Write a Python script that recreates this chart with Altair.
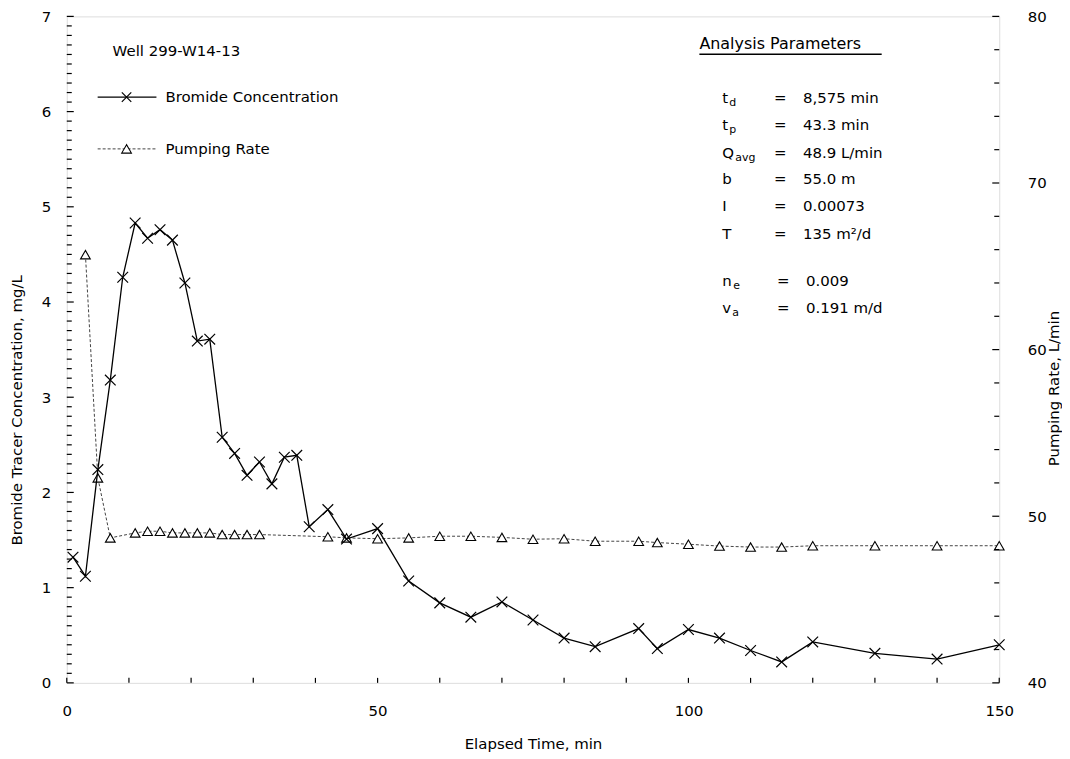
import altair as alt
import pandas as pd

# ---------------- data ----------------
t_br = [1, 3, 5, 7, 9, 11, 13, 15, 17, 19, 21, 23, 25, 27, 29, 31, 33, 35, 37, 39,
        42, 45, 50, 55, 60, 65, 70, 75, 80, 85, 92, 95, 100, 105, 110, 115, 120, 130, 140, 150]
conc = [1.32, 1.12, 2.24, 3.18, 4.26, 4.83, 4.67, 4.76, 4.65, 4.20, 3.59, 3.61, 2.58, 2.41, 2.18,
        2.32, 2.09, 2.37, 2.39, 1.64, 1.82, 1.51, 1.62, 1.07, 0.84, 0.69, 0.85, 0.66, 0.47, 0.38,
        0.57, 0.36, 0.56, 0.47, 0.34, 0.22, 0.43, 0.31, 0.25, 0.40]
t_pr = [3, 5, 7, 11, 13, 15, 17, 19, 21, 23, 25, 27, 29, 31, 42, 45, 50, 55, 60, 65, 70, 75,
        80, 85, 92, 95, 100, 105, 110, 115, 120, 130, 140, 150]
rate = [65.7, 52.3, 48.7, 49.0, 49.1, 49.1, 49.0, 49.0, 49.0, 49.0, 48.9, 48.9, 48.9, 48.9,
        48.77, 48.7, 48.65, 48.7, 48.8, 48.8, 48.73, 48.62, 48.65, 48.5, 48.5, 48.42, 48.32,
        48.21, 48.15, 48.15, 48.23, 48.23, 48.23, 48.23]

x_labels = [0, 50, 100, 150]
x_ticks = list(range(0, 151, 10))
yl_labels = [0, 1, 2, 3, 4, 5, 6, 7]
yl_minor = [i / 10 for i in range(71) if i % 10 != 0]
yr_labels = [40, 50, 60, 70, 80]
yr_minor = [v for v in range(40, 81, 2) if v % 10 != 0]

param_names = ["t", "t", "Q", "b", "I", "T", "n", "v"]
param_subs = ["d", "p", "avg", "", "", "", "e", "a"]
param_values = ["8,575 min", "43.3 min", "48.9 L/min", "55.0 m", "0.00073", "135 m\u00b2/d",
                "0.009", "0.191 m/d"]

# ---------------- layout / style ----------------
W, H = 936, 669
FONT = "DejaVu Sans"
FS = 15
X_PATH = "M-1,-1L1,1M-1,1L1,-1"

br = pd.DataFrame({"t": t_br, "conc": conc})
pr = pd.DataFrame({"t": t_pr, "rate": rate})
one = pd.DataFrame({"a": [0]})

xscale = alt.Scale(domain=[0, 150], nice=False, zero=False)
ylscale = alt.Scale(domain=[0, 7], nice=False, zero=False)
yrscale = alt.Scale(domain=[40, 80], nice=False, zero=False)

common_axis = dict(ticks=False, tickSize=0, domain=False, grid=False, labelFont=FONT,
                   labelFontSize=FS, labelColor="black", titleFont=FONT, titleFontSize=FS,
                   titleFontWeight="normal", titleColor="black", labelFlush=False,
                   labelOverlap=False)
xaxis = alt.Axis(values=x_labels, title="Elapsed Time, min", labelPadding=21,
                 titleX=W / 2, titleY=61, titleBaseline="middle", **common_axis)
ylaxis = alt.Axis(values=yl_labels, title="Bromide Tracer Concentration, mg/L", orient="left",
                  labelPadding=16, titleX=-50, titleY=395, titleAngle=270,
                  titleBaseline="middle", **common_axis)
yraxis = alt.Axis(values=yr_labels, title="Pumping Rate, L/min", orient="right",
                  labelPadding=28, titleX=54, titleY=373, titleAngle=270,
                  titleBaseline="middle", **common_axis)


def X(field):
    return alt.X(field, type="quantitative", scale=xscale, axis=xaxis)


def YL(field):
    return alt.Y(field, type="quantitative", scale=ylscale, axis=ylaxis)


def YR(field):
    return alt.Y(field, type="quantitative", scale=yrscale, axis=yraxis)


def txt(s, x, y, size=FS, align="left"):
    return alt.Chart(one).mark_text(text=s, font=FONT, fontSize=size, align=align,
                                    baseline="middle", color="black").encode(
        x=alt.value(x), y=alt.value(y))


# ---------------- left (bromide) group ----------------
br_line = alt.Chart(br).mark_line(color="black", strokeWidth=1.3).encode(x=X("t"), y=YL("conc"))
br_pts = alt.Chart(br).mark_point(shape=X_PATH, size=115, filled=False, stroke="black",
                                  strokeWidth=1.2, opacity=1).encode(x=X("t"), y=YL("conc"))

yl_major_ticks = alt.Chart(pd.DataFrame({"v": yl_labels})).mark_rule(
    color="black", strokeWidth=1.2).encode(y=YL("v"), x=alt.value(0), x2=alt.value(7))
yl_minor_ticks = alt.Chart(pd.DataFrame({"v": yl_minor})).mark_rule(
    color="black", strokeWidth=1.2).encode(y=YL("v"), x=alt.value(0), x2=alt.value(5))
x_tick_marks = alt.Chart(pd.DataFrame({"v": x_ticks})).mark_rule(
    color="black", strokeWidth=1.2).encode(x=X("v"), y=alt.value(H), y2=alt.value(H - 5))

# legend and annotations (pixel positions inside the plot area)
annots = [
    txt("Well 299-W14-13", 46, 35),
    alt.Chart(one).mark_rule(color="black", strokeWidth=1.3).encode(
        x=alt.value(31), x2=alt.value(90), y=alt.value(81)),
    alt.Chart(one).mark_point(shape=X_PATH, size=90, filled=False, stroke="black",
                              strokeWidth=1.2, opacity=1).encode(x=alt.value(60), y=alt.value(81)),
    txt("Bromide Concentration", 99, 81),
    alt.Chart(one).mark_rule(color="#444444", strokeWidth=1, strokeDash=[3, 2]).encode(
        x=alt.value(31), x2=alt.value(90), y=alt.value(133)),
    alt.Chart(one).mark_point(shape="triangle-up", size=95, filled=True, fill="white",
                              stroke="black", strokeWidth=1.1, opacity=1).encode(
        x=alt.value(60), y=alt.value(133)),
    txt("Pumping Rate", 99, 133),
    txt("Analysis Parameters", 635, 28, size=16),
    alt.Chart(one).mark_rule(color="black", strokeWidth=1.5).encode(
        x=alt.value(635), x2=alt.value(818), y=alt.value(38)),
]

row_y = [82, 109, 137, 163, 190, 218, 266, 293]
sub_dx = {"d": 7, "p": 7, "avg": 13, "e": 11, "a": 10}
for i, (nm, sb, val) in enumerate(zip(param_names, param_subs, param_values)):
    y = row_y[i]
    shift = 3 if i >= 6 else 0
    annots.append(txt(nm, 658, y))
    if sb:
        annots.append(txt(sb, 658 + sub_dx[sb], y + 5, size=11))
    annots.append(txt("=", 710 + shift, y))
    annots.append(txt(val, 739 + shift, y))

left = alt.layer(yl_minor_ticks, yl_major_ticks, x_tick_marks, br_line, br_pts, *annots)

# ---------------- right (pumping rate) group ----------------
pr_line = alt.Chart(pr).mark_line(color="#444444", strokeWidth=1, strokeDash=[3, 2]).encode(
    x=X("t"), y=YR("rate"))
pr_pts = alt.Chart(pr).mark_point(shape="triangle-up", size=95, filled=True, fill="white",
                                  stroke="black", strokeWidth=1.1, opacity=1).encode(
    x=X("t"), y=YR("rate"))
yr_major_ticks = alt.Chart(pd.DataFrame({"v": yr_labels})).mark_rule(
    color="black", strokeWidth=1.2).encode(y=YR("v"), x=alt.value(W), x2=alt.value(W - 7))
yr_minor_ticks = alt.Chart(pd.DataFrame({"v": yr_minor})).mark_rule(
    color="black", strokeWidth=1.2).encode(y=YR("v"), x=alt.value(W), x2=alt.value(W - 5))

right = alt.layer(pr_line, pr_pts, yr_minor_ticks, yr_major_ticks)

chart = alt.layer(right, left).resolve_scale(y="independent").properties(
    width=W, height=H, autosize="none",
    padding={"left": 59, "top": 7, "right": 63, "bottom": 70},
).configure_view(stroke="black", strokeWidth=1.5).configure(background="white")

chart.save("out.html", embed_options={"renderer": "svg", "actions": False})
